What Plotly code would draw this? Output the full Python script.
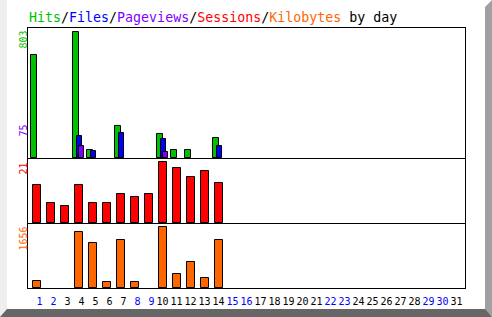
import plotly.graph_objects as go

W, H = 492, 317

days = list(range(1, 32))
day_labels = [str(d) for d in days]
weekend_days = [1, 2, 8, 9, 15, 16, 22, 23, 29, 30]

hits = [656, None, None, 803, 51, None, 204, None, None, 153, 51, 51, None, 127] + [None] * 17
files = [None, None, None, 140, 45, None, 160, None, None, 121, None, None, None, 76] + [None] * 17
pages = [None, None, None, 75, None, None, None, None, None, 38, None, None, None, None] + [None] * 17
sessions = [13, 7, 6, 13, 7, 7, 10, 9, 10, 21, 19, 16, 18, 14] + [None] * 17
kbytes = [191, None, None, 1528, 1220, 164, 1310, 164, None, 1656, 382, 710, 273, 1310] + [None] * 17

max_hits, max_pages, max_sessions, max_kbytes = 803, 75, 21, 1656

C_HIT = "#00C000"
C_FILE = "#0000FF"
C_PAGE = "#8000FF"
C_SESS = "#FF0000"
C_KB = "#FF6600"

PX = 14.0  # pixels per day


def px_x(p):
    return p / W


def px_y(p):
    return 1 - p / H


fig = go.Figure()

line = dict(color="black", width=1)
fig.add_trace(go.Bar(x=days, y=hits, marker=dict(color=C_HIT, line=line),
                     width=5.5 / PX, offset=-5.05 / PX, xaxis="x", yaxis="y"))
fig.add_trace(go.Bar(x=days, y=files, marker=dict(color=C_FILE, line=line),
                     width=5.5 / PX, offset=-1.95 / PX, xaxis="x", yaxis="y"))
fig.add_trace(go.Bar(x=days, y=pages, marker=dict(color=C_PAGE, line=line),
                     width=5.5 / PX, offset=0.05 / PX, xaxis="x", yaxis="y"))
fig.add_trace(go.Bar(x=days, y=sessions, marker=dict(color=C_SESS, line=line),
                     width=8 / PX, xaxis="x2", yaxis="y2"))
fig.add_trace(go.Bar(x=days, y=kbytes, marker=dict(color=C_KB, line=line),
                     width=8 / PX, xaxis="x3", yaxis="y3"))

xr = [1 + (28 - 36.5) / PX, 1 + (465 - 36.5) / PX]
xdom = [28 / W, 465 / W]

ticktext = []
for d, lab in zip(days, day_labels):
    t = ("\u00a0" + lab) if d < 10 else lab
    col = "#0000FF" if d in weekend_days else "#000000"
    ticktext.append(f"<span style='color:{col}'>{t}</span>")

base = dict(showline=True, linecolor="black", linewidth=1,
            showgrid=False, zeroline=False, fixedrange=True)

fig.update_layout(
    width=W, height=H,
    margin=dict(l=0, r=0, t=0, b=0),
    paper_bgcolor="white", plot_bgcolor="white",
    showlegend=False, barmode="overlay", bargap=0,
    font=dict(family="DejaVu Sans Mono", size=10, color="black"),
    xaxis=dict(domain=xdom, range=xr, anchor="y", showticklabels=False, ticks="", mirror=True, **base),
    yaxis=dict(domain=[px_y(158), px_y(28)], range=[0, max_hits * 130 / 126], anchor="x",
               showticklabels=False, ticks="", mirror=True, **base),
    xaxis2=dict(domain=xdom, range=xr, anchor="y2", showticklabels=False, ticks="", mirror=False, **base),
    yaxis2=dict(domain=[px_y(223), px_y(158)], range=[0, max_sessions * 65 / 60.7], anchor="x2",
                showticklabels=False, ticks="", mirror=True, **base),
    xaxis3=dict(domain=xdom, range=xr, anchor="y3", tickmode="array", tickvals=days,
                ticktext=ticktext, ticks="", tickangle=0, ticklabelstandoff=4, mirror=False,
                tickfont=dict(family="DejaVu Sans Mono", size=10), **base),
    yaxis3=dict(domain=[px_y(288), px_y(223)], range=[0, max_kbytes * 65 / 60.7], anchor="x3",
                showticklabels=False, ticks="", mirror=True, **base),
)

# 3D frame
shapes = [
    dict(type="path", xref="paper", yref="paper", layer="below",
         path=f"M 0 {px_y(0)} L {px_x(7)} {px_y(0)} L {px_x(7)} {px_y(310)} L 0 {px_y(317)} Z",
         fillcolor="#EEEEEE", line=dict(width=0)),
    dict(type="path", xref="paper", yref="paper", layer="below",
         path=f"M {px_x(492)} {px_y(0)} L {px_x(485)} {px_y(7)} L {px_x(485)} {px_y(310)} L {px_x(492)} {px_y(317)} Z",
         fillcolor="#A0A0A0", line=dict(width=0)),
    dict(type="path", xref="paper", yref="paper", layer="below",
         path=f"M 0 {px_y(317)} L {px_x(7)} {px_y(309)} L {px_x(485)} {px_y(309)} L {px_x(492)} {px_y(317)} Z",
         fillcolor="#666666", line=dict(width=0)),
]
fig.update_layout(shapes=shapes)

title = (f"<span style='color:{C_HIT}'>Hits</span>/"
         f"<span style='color:{C_FILE}'>Files</span>/"
         f"<span style='color:{C_PAGE}'>Pageviews</span>/"
         f"<span style='color:{C_SESS}'>Sessions</span>/"
         f"<span style='color:{C_KB}'>Kilobytes</span> by day")

annotations = [
    dict(text=title, xref="paper", yref="paper", x=px_x(27), y=px_y(18),
         xanchor="left", yanchor="middle", showarrow=False,
         font=dict(family="DejaVu Sans Mono", size=13.3, color="black")),
]
side = [(str(max_hits), C_HIT, 28.5), (str(max_pages), C_PAGE, 122.5),
        (str(max_sessions), C_SESS, 160.5), (str(max_kbytes), C_KB, 224.5)]
for txt, col, top in side:
    annotations.append(dict(text=txt, xref="paper", yref="paper", x=px_x(23), y=px_y(top),
                            xanchor="center", yanchor="top", showarrow=False, textangle=-90,
                            font=dict(family="DejaVu Sans Mono", size=10, color=col)))
fig.update_layout(annotations=annotations)

fig.write_html("out.html", config={"displayModeBar": False})
